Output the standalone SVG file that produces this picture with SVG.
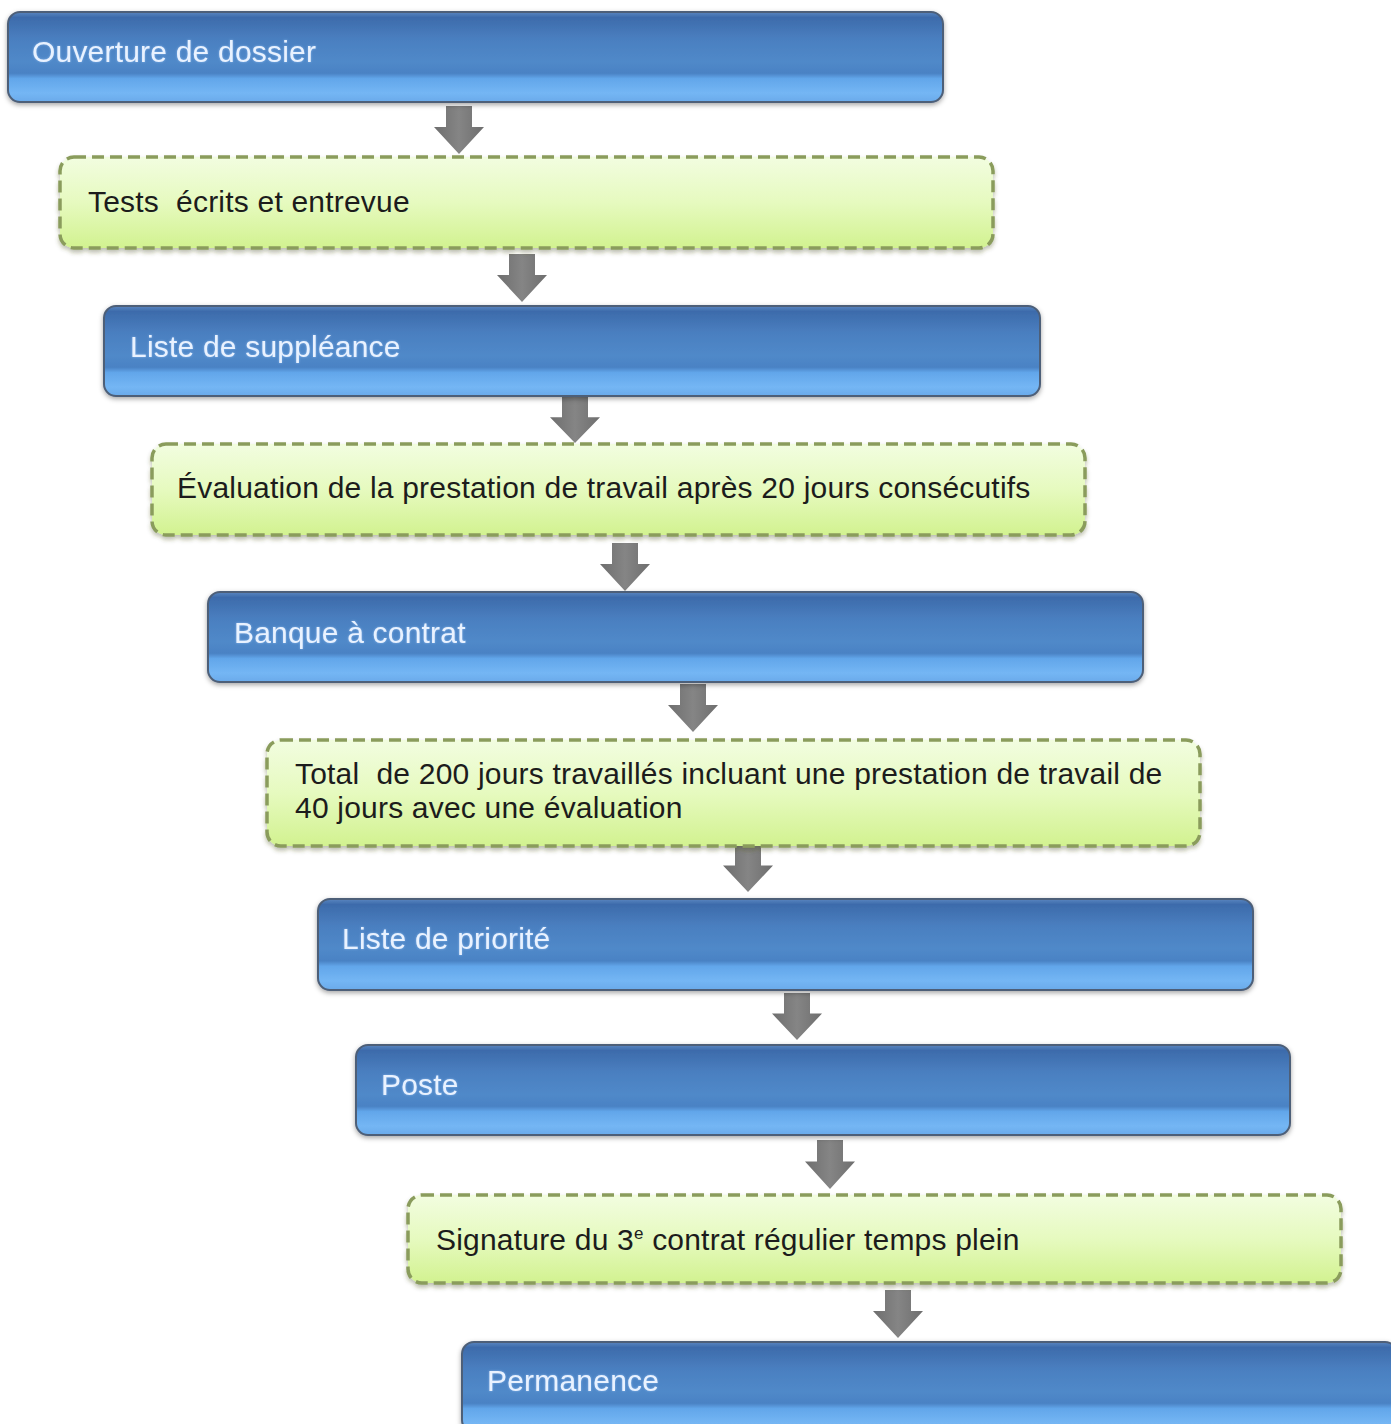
<svg xmlns="http://www.w3.org/2000/svg" width="1391" height="1424" viewBox="0 0 1391 1424">
<defs>
<linearGradient id="gBlue" x1="0" y1="0" x2="0" y2="1">
<stop offset="0" stop-color="#5a86c0"/>
<stop offset="0.06" stop-color="#3d6bab"/>
<stop offset="0.3" stop-color="#4a7fc0"/>
<stop offset="0.55" stop-color="#5089c9"/>
<stop offset="0.68" stop-color="#4a82c4"/>
<stop offset="0.74" stop-color="#62a6ea"/>
<stop offset="0.9" stop-color="#74b6f4"/>
<stop offset="1" stop-color="#6aaaea"/>
</linearGradient>
<linearGradient id="gGreen" x1="0" y1="0" x2="0" y2="1">
<stop offset="0" stop-color="#f2fde0"/>
<stop offset="0.5" stop-color="#e6fabf"/>
<stop offset="1" stop-color="#d2f290"/>
</linearGradient>
<linearGradient id="gArrow" x1="0" y1="0" x2="1" y2="0">
<stop offset="0" stop-color="#6e6e6e"/>
<stop offset="0.5" stop-color="#858585"/>
<stop offset="1" stop-color="#6e6e6e"/>
</linearGradient>
<filter id="shB" x="-5%" y="-20%" width="110%" height="150%">
<feDropShadow dx="0" dy="2" stdDeviation="2.5" flood-color="#000" flood-opacity="0.35"/>
</filter>
<filter id="shG" x="-5%" y="-20%" width="110%" height="150%">
<feDropShadow dx="0" dy="3" stdDeviation="2" flood-color="#404a20" flood-opacity="0.35"/>
</filter>
<filter id="glow" x="-5%" y="-30%" width="110%" height="160%">
<feGaussianBlur in="SourceAlpha" stdDeviation="1.2" result="b"/>
<feFlood flood-color="#a8d0ff" flood-opacity="0.6"/>
<feComposite in2="b" operator="in" result="g"/>
<feMerge><feMergeNode in="g"/><feMergeNode in="SourceGraphic"/></feMerge>
</filter>
<path id="arrow" d="M-13,0 H13 V21 H25 L0,48 L-25,21 H-13 Z"/>
</defs>
<style>
.blue{fill:url(#gBlue);stroke:#4d5f78;stroke-width:2;filter:url(#shB)}
.green{fill:url(#gGreen);stroke:#8a9c5c;stroke-width:3.5;stroke-dasharray:12 6;filter:url(#shG)}
.tb{font-family:"Liberation Sans",Arial,sans-serif;font-size:30px;letter-spacing:0.2px;fill:#e9f2ff;filter:url(#glow)}
.tg{font-family:"Liberation Sans",Arial,sans-serif;font-size:30px;letter-spacing:0.2px;fill:#1c1c1c;white-space:pre}
.arr{fill:url(#gArrow)}
</style>
<rect width="1391" height="1424" fill="#ffffff"/>

<g id="connectors">
<use href="#arrow" class="arr" transform="translate(459,106)"/>
<use href="#arrow" class="arr" transform="translate(522,254)"/>
<use href="#arrow" class="arr" transform="translate(575,397) scale(1,0.96)"/>
<use href="#arrow" class="arr" transform="translate(625,543)"/>
<use href="#arrow" class="arr" transform="translate(693,684)"/>
<use href="#arrow" class="arr" transform="translate(748,845) scale(1,0.98)"/>
<use href="#arrow" class="arr" transform="translate(797,993) scale(1,0.98)"/>
<use href="#arrow" class="arr" transform="translate(830,1140) scale(1,1.02)"/>
<use href="#arrow" class="arr" transform="translate(898,1290)"/>
</g>

<g id="n1">
<rect class="blue" x="8" y="12" width="935" height="90" rx="12"/>
<text class="tb" x="32" y="62">Ouverture de dossier</text>
</g>
<g id="n2">
<rect class="green" x="60" y="157" width="933" height="91" rx="14"/>
<text class="tg" x="88" y="212">Tests  écrits et entrevue</text>
</g>
<g id="n3">
<rect class="blue" x="104" y="306" width="936" height="90" rx="12"/>
<text class="tb" x="130" y="357">Liste de suppléance</text>
</g>
<g id="n4">
<rect class="green" x="152" y="444" width="933" height="91" rx="14"/>
<text class="tg" x="177" y="498">Évaluation de la prestation de travail après 20 jours consécutifs</text>
</g>
<g id="n5">
<rect class="blue" x="208" y="592" width="935" height="90" rx="12"/>
<text class="tb" x="234" y="643">Banque à contrat</text>
</g>
<g id="n6">
<rect class="green" x="267" y="740" width="933" height="106" rx="14"/>
<text class="tg" x="295" y="784">Total  de 200 jours travaillés incluant une prestation de travail de</text>
<text class="tg" x="295" y="818">40 jours avec une évaluation</text>
</g>
<g id="n7">
<rect class="blue" x="318" y="899" width="935" height="91" rx="12"/>
<text class="tb" x="342" y="949">Liste de priorité</text>
</g>
<g id="n8">
<rect class="blue" x="356" y="1045" width="934" height="90" rx="12"/>
<text class="tb" x="381" y="1095">Poste</text>
</g>
<g id="n9">
<rect class="green" x="408" y="1195" width="933" height="88" rx="14"/>
<text class="tg" x="436" y="1250">Signature du 3<tspan font-size="17" dy="-11">e</tspan><tspan dy="11"> contrat régulier temps plein</tspan></text>
</g>
<g id="n10">
<rect class="blue" x="462" y="1342" width="935" height="90" rx="12"/>
<text class="tb" x="487" y="1391">Permanence</text>
</g>
</svg>
